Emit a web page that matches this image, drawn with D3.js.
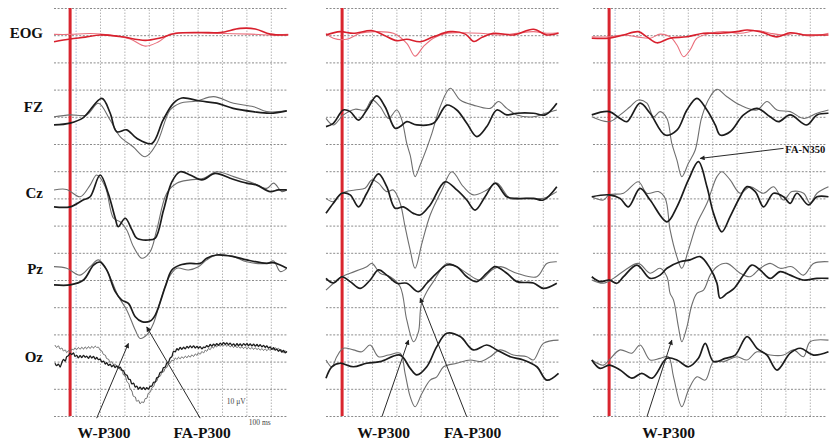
<!DOCTYPE html>
<html>
<head>
<meta charset="utf-8">
<script src="https://cdn.jsdelivr.net/npm/d3@7"></script>
<style>
    body { margin: 0; background: #fff; }
    .chart text { font-family: "Liberation Serif", "Times New Roman", serif; }
</style>
</head>
<body>
<div class="chart"></div>
<script>
// channel names, one per row block
var channels = ["EOG", "FZ", "Cz", "Pz", "Oz"];
// grid row of each channel baseline (1 row = 10 uV, 1 column = 100 ms)
var channelRows = [1, 4, 7, 10, 13];
var labelRows = [1.1, 3.82, 6.99, 9.78, 13.01];
var gridTimes = [22.5, 122.5, 222.5, 322.5, 422.5, 522.5, 622.5, 722.5, 822.5];

// ---------- panel 1 ----------  [ms, uV]  (positive drawn downward)
var p1EogA = [[-66,2.4],[0,1.4],[62,0.7],[123,-0.1],[205,0.5],[308,1.9],[369,1.0],[431,-0.6],[533,-1.0],[615,-1.0],[697,-2.5],[759,-2.3],[820,-0.4],[894,-0.1]];
var p1EogB = [[-66,-0.3],[0,-0.3],[82,-0.6],[164,-0.1],[246,1.4],[308,4.0],[361,2.5],[410,-0.4],[533,-0.8],[636,-0.6],[738,-0.4],[820,-0.1],[894,-0.3]];
var p1FzBlack = [[-66,3.0],[0,2.3],[53,0.4],[130,-6.8],[164,-1.4],[191,5.5],[232,4.8],[273,7.9],[335,9.8],[381,1.2],[424,-5.0],[458,-6.9],[533,-5.8],[601,-5.0],[668,-3.1],[750,-1.9],[820,-1.3],[888,-2.2]];
var p1FzGray = [[-66,0],[0,-0.7],[68,-0.7],[116,-5.0],[164,1.2],[205,7.3],[258,11.0],[308,14.7],[355,9.8],[410,-2.5],[451,-5.0],[519,-5.8],[588,-7.4],[670,-5.0],[752,-3.7],[806,-1.9],[888,-2.2]];
var p1CzBlack = [[-66,3.1],[0,3.1],[53,0.6],[82,-0.6],[123,-8.6],[156,-1.9],[185,7.3],[197,10.4],[226,7.3],[253,11.5],[273,14.6],[321,15.3],[349,14.6],[383,4.3],[417,-6.1],[451,-9.8],[492,-8.6],[540,-6.8],[595,-9.2],[656,-7.4],[724,-5.6],[765,-4.9],[820,-2.5],[853,-3.1],[888,-3.1]];
var p1CzGray = [[-66,-3.1],[-14,-3.3],[41,-0.6],[82,-4.9],[109,-8.6],[144,-4.3],[178,7.3],[205,8.6],[232,11.6],[260,17.8],[294,22.0],[328,19.6],[355,11.6],[396,-1.9],[437,-5.6],[492,-6.8],[547,-7.4],[601,-9.8],[670,-8.0],[752,-5.6],[806,-3.7],[834,-5.6],[868,-2.5],[888,-3.1]];
var p1PzBlack = [[-66,1.8],[0,1.8],[55,0],[96,-5.5],[123,-6.6],[150,-3.7],[185,4.3],[212,7.4],[239,8.6],[267,13.5],[294,15.3],[328,15.1],[349,12.9],[390,2.5],[417,-3.7],[451,-5.5],[492,-6.1],[533,-6.1],[560,-8.0],[601,-9.2],[670,-8.6],[724,-7.4],[806,-6.1],[832,-6.4],[861,-5.5],[888,-4.3]];
var p1PzGray = [[-66,-4.9],[-14,-4.3],[41,-1.8],[82,-4.9],[116,-7.4],[150,-3.7],[198,6.1],[232,11.0],[267,18.4],[287,21.5],[314,20.2],[342,15.9],[369,8.0],[403,-0.6],[437,-4.3],[485,-3.7],[526,-4.9],[560,-7.4],[601,-9.2],[670,-8.6],[724,-6.7],[806,-6.1],[834,-7.0],[861,-3.1],[888,-4.3]];
var p1OzBlack = [[-62,0.6],[-55,1.5],[-48,0.9],[-41,2.0],[-34,0.4],[-27,-0.8],[-20,-0.2],[-14,-1.8],[-7,-2.2],[0,-3.1],[7,-2.6],[14,-3.2],[20,-1.9],[27,-2.3],[34,-1.4],[41,-2.2],[48,-1.5],[55,-2.3],[62,-1.6],[68,-2.0],[75,-1.2],[82,-2.1],[89,-1.3],[96,-1.9],[103,-0.9],[109,-1.5],[116,-0.7],[123,-0.9],[130,0.1],[137,-0.2],[144,0.9],[150,0.4],[157,1.4],[164,0.9],[171,1.9],[178,1.3],[185,2.2],[191,1.6],[198,2.4],[205,2.0],[212,3.1],[219,3.4],[226,4.8],[233,5.0],[240,6.5],[246,6.6],[253,8.2],[260,7.9],[267,9.4],[273,9.0],[280,10.1],[287,9.4],[294,10.2],[301,9.5],[308,10.3],[314,9.6],[321,10.1],[328,9.1],[335,9.0],[342,7.6],[349,7.5],[355,6.0],[362,5.6],[369,4.0],[376,3.8],[383,2.2],[390,2.0],[396,0.6],[403,0.2],[410,-1.3],[417,-1.8],[424,-3.8],[431,-3.6],[438,-4.8],[444,-4.2],[451,-5.2],[458,-4.5],[465,-5.3],[472,-4.7],[479,-5.6],[485,-5.0],[492,-5.8],[499,-5.1],[506,-5.8],[513,-5.0],[520,-5.6],[526,-4.9],[533,-5.5],[540,-4.7],[547,-5.3],[554,-5.2],[560,-5.9],[567,-5.4],[574,-6.3],[581,-5.7],[588,-6.4],[595,-5.9],[601,-6.6],[608,-6.0],[615,-6.8],[622,-6.2],[629,-7.0],[636,-6.3],[642,-6.9],[649,-6.2],[656,-6.8],[663,-6.0],[670,-6.5],[677,-5.8],[684,-6.6],[690,-5.9],[697,-6.5],[704,-5.8],[711,-6.6],[718,-6.0],[725,-6.6],[731,-5.9],[738,-6.5],[745,-5.8],[752,-6.4],[759,-5.7],[766,-6.3],[772,-5.6],[779,-6.2],[786,-5.4],[793,-6.0],[800,-5.2],[806,-5.8],[813,-5.0],[820,-5.4],[827,-4.5],[834,-5.1],[841,-4.2],[847,-4.6],[854,-3.8],[861,-4.4],[868,-3.5],[875,-4.1],[882,-3.2],[888,-3.8]];
var p1OzGray = [[-62,-6.1],[-55,-5.2],[-48,-5.8],[-41,-4.6],[-34,-5.0],[-27,-3.9],[-20,-4.3],[-14,-3.3],[-7,-4.0],[0,-3.6],[7,-4.6],[14,-4.3],[20,-5.1],[27,-4.4],[34,-5.2],[41,-4.5],[48,-5.3],[55,-4.6],[62,-5.4],[68,-4.7],[75,-5.5],[82,-4.8],[89,-5.6],[96,-5.0],[103,-5.7],[109,-5.2],[116,-5.3],[123,-4.2],[130,-3.9],[137,-2.6],[144,-2.4],[150,-1.1],[157,-0.9],[164,0.2],[171,0.1],[178,1.1],[185,0.9],[191,1.9],[198,1.7],[205,3.0],[212,3.2],[219,4.9],[226,5.3],[233,7.4],[240,8.0],[246,10.0],[253,10.8],[260,12.8],[267,13.0],[273,14.6],[280,14.2],[287,15.5],[294,14.8],[301,15.1],[308,13.6],[314,13.5],[321,11.6],[328,11.3],[335,9.6],[342,9.2],[349,7.5],[355,7.2],[362,5.6],[369,5.4],[376,4.0],[383,3.8],[390,2.4],[396,2.2],[403,0.8],[410,0.6],[417,-0.5],[424,-0.3],[431,-1.3],[438,-0.8],[444,-1.6],[451,-1.0],[458,-1.8],[465,-1.2],[472,-2.0],[479,-1.4],[485,-2.2],[492,-1.6],[499,-2.5],[506,-1.9],[513,-2.8],[520,-2.3],[526,-3.2],[533,-2.7],[540,-3.7],[547,-3.2],[554,-4.2],[560,-3.8],[567,-4.8],[574,-4.4],[581,-5.4],[588,-5.0],[595,-5.9],[601,-5.4],[608,-6.2],[615,-5.6],[622,-6.3],[629,-5.8],[636,-6.3],[642,-5.6],[649,-6.1],[656,-5.4],[663,-5.9],[670,-5.2],[677,-5.8],[684,-5.1],[690,-5.6],[697,-4.9],[704,-5.5],[711,-4.8],[718,-5.4],[725,-4.7],[731,-5.3],[738,-4.6],[745,-5.2],[752,-4.5],[759,-5.1],[766,-4.4],[772,-4.9],[779,-4.2],[786,-4.8],[793,-4.1],[800,-4.7],[806,-4.0],[813,-4.6],[820,-4.1],[827,-5.0],[834,-4.4],[841,-5.1],[847,-4.5],[854,-4.9],[861,-3.9],[868,-4.3],[875,-3.3],[882,-3.9],[888,-3.2]];

// ---------- panel 2 ----------
var p2EogA = [[-66,-0.1],[-8,-1.3],[46,-0.7],[122,-1.7],[169,-0.1],[224,2.0],[265,1.5],[320,2.4],[374,0.6],[443,-1.3],[505,-0.4],[540,2.3],[573,0.8],[620,-0.7],[702,-0.1],[784,-2.2],[839,-0.1],[887,-0.7]];
var p2EogB = [[-66,-0.7],[-36,1.1],[19,1.5],[74,-0.7],[135,-1.3],[210,-0.7],[265,3.0],[299,7.7],[333,4.2],[374,1.1],[429,-0.7],[497,-0.9],[566,-0.7],[648,-0.1],[716,-0.7],[784,-1.3],[839,-0.7],[887,-0.9]];
var p2FzBlack = [[-66,3.6],[-36,2.4],[5,-2.5],[33,-1.9],[67,1.2],[101,-2.5],[142,-7.7],[176,-3.7],[217,4.2],[238,3.6],[265,1.8],[306,3.0],[374,2.4],[429,-4.3],[470,-2.5],[511,2.4],[552,7.3],[593,3.6],[634,-2.5],[675,-0.7],[716,-1.3],[784,-1.3],[832,-0.7],[880,-5.0]];
var p2FzGray = [[-66,0.6],[-36,3.0],[5,-0.7],[53,-2.8],[94,-2.5],[122,-6.2],[156,-3.7],[190,0.6],[224,-2.5],[245,1.2],[265,9.8],[279,14.1],[299,22.0],[320,17.7],[347,11.5],[368,6.1],[402,-3.7],[443,-10.5],[484,-6.2],[538,-4.3],[607,-3.1],[641,-5.6],[675,-3.1],[716,-0.7],[784,0],[832,-1.3],[880,-2.5]];
var p2CzBlack = [[-66,5.5],[-36,1.8],[-1,-1.9],[33,-1.3],[67,3.1],[101,-1.9],[149,-9.0],[183,-4.3],[217,3.6],[251,3.1],[292,5.5],[320,6.1],[361,2.4],[422,-6.1],[470,-3.1],[511,0.6],[545,4.3],[586,-0.6],[627,-5.6],[675,-0.6],[716,0],[784,0],[825,0.6],[880,-4.3]];
var p2CzGray = [[-66,0],[-36,1.2],[-1,-1.9],[53,-3.1],[94,-3.7],[122,-6.8],[149,-5.6],[183,-2.5],[210,-3.1],[238,1.8],[258,10.4],[279,19.0],[299,25.7],[327,16.5],[361,6.1],[409,-3.1],[450,-9.8],[497,-4.3],[538,-1.3],[593,-3.1],[634,-5.6],[689,0],[757,0],[825,0],[880,-2.5]];
var p2PzBlack = [[-66,-0.6],[-36,1.1],[-1,-1.2],[33,0.6],[74,3.1],[115,0],[149,-3.7],[183,-1.8],[224,1.2],[265,1.2],[313,4.3],[347,1.2],[388,-2.5],[429,-5.5],[470,-4.9],[511,-1.2],[552,0.6],[593,-2.5],[627,-4.9],[675,-2.5],[716,0.6],[784,1.1],[825,3.1],[880,1.2]];
var p2PzGray = [[-66,3.7],[-1,-1.2],[33,-2.5],[101,-4.9],[122,-6.1],[156,-2.5],[197,-1.2],[238,2.5],[265,14.7],[293,22.7],[313,19.0],[324,9.2],[347,4.3],[374,0.6],[429,-6.1],[470,-4.9],[511,-2.5],[566,0],[614,-3.7],[648,-4.9],[716,-2.5],[798,-1.2],[839,-6.1],[880,-6.7]];
var p2OzBlack = [[-66,6.1],[-42,1.9],[-8,0.6],[46,1.9],[101,0.6],[156,0],[238,-2.4],[279,2.5],[306,4.9],[347,1.9],[388,-5.5],[429,-10.4],[484,-9.2],[538,-4.3],[593,-6.1],[634,-4.3],[689,-1.8],[743,-0.6],[798,1.9],[839,6.8],[887,4.3]];
var p2OzGray = [[-66,-0.6],[-42,1.9],[-22,-1.8],[5,-4.9],[46,-4.3],[81,-3.6],[115,-6.1],[149,-1.8],[190,-2.4],[238,-3.1],[258,4.3],[279,12.9],[299,16.6],[327,11.7],[361,6.8],[388,5.6],[416,1.9],[470,0.6],[525,-0.6],[566,0],[607,-1.8],[648,-4.3],[702,-2.4],[757,-1.8],[784,-0.6],[825,-6.7],[887,-7.9]];

// ---------- panel 3 ----------
var p3EogA = [[-71,1.1],[0,1.1],[59,-0.1],[120,-1.3],[155,0.6],[196,2.8],[250,1.1],[319,0.6],[387,-0.7],[455,-0.7],[524,-1.3],[565,-1.9],[619,-1.3],[688,0.6],[742,-0.9],[797,-0.1],[852,-0.1],[899,-0.1]];
var p3EogB = [[-71,0.6],[0,0.6],[59,-0.1],[114,0.6],[168,1.1],[209,-0.4],[250,0.6],[278,3.6],[305,7.9],[332,5.4],[360,1.1],[414,-0.7],[469,-1.3],[537,-0.7],[606,-1.7],[660,-0.7],[715,-0.1],[770,-0.7],[824,0.3],[899,-0.7]];
var p3FzBlack = [[-71,-0.7],[0,-1.9],[45,0.6],[73,1.8],[127,-5.0],[168,-1.3],[230,6.7],[278,4.9],[319,-2.5],[360,-6.8],[401,-2.5],[435,3.0],[455,6.7],[496,5.5],[551,-0.7],[606,-3.1],[660,0],[694,1.8],[742,-0.7],[810,3.0],[852,-0.7],[899,-1.3]];
var p3FzGray = [[-71,0],[0,1.8],[45,-0.7],[86,-3.7],[120,-6.2],[155,-5.0],[182,0],[209,-1.9],[237,0.6],[257,9.8],[278,15.9],[298,22.0],[325,17.1],[353,12.2],[380,0],[414,-7.4],[442,-10.1],[483,-7.4],[537,-4.3],[606,-2.5],[647,-5.6],[688,-2.5],[742,-1.9],[797,0.6],[852,-1.3],[899,-2.5]];
var p3CzBlack = [[-71,-0.6],[0,-1.3],[45,0],[79,3.1],[127,-3.7],[168,0.6],[237,8.6],[278,3.1],[325,-6.8],[366,-13.5],[401,-4.3],[428,5.5],[462,12.3],[496,6.7],[537,-0.6],[565,-4.3],[599,-2.5],[633,3.1],[674,-1.9],[715,-0.6],[742,1.8],[770,-1.9],[817,2.4],[852,-0.6],[899,-0.6]];
var p3CzGray = [[-71,-0.6],[-23,0.6],[0,-1.3],[59,-1.9],[120,-6.1],[155,-1.9],[202,-2.5],[230,0],[250,11.6],[278,21.5],[298,25.7],[325,19.0],[360,9.2],[401,1.8],[442,-8.0],[462,-9.8],[496,-6.8],[537,-1.9],[578,-4.3],[633,-1.9],[674,-4.3],[715,0.6],[749,-2.5],[797,-1.9],[824,1.8],[852,-1.9],[899,-4.3]];
var p3PzBlack = [[-71,-1.2],[-37,0.6],[0,0],[32,1.2],[59,-1.2],[114,-5.5],[168,-0.6],[209,-1.8],[237,-4.3],[291,-6.7],[332,-7.4],[373,-8.6],[414,-4.3],[442,1.2],[455,6.7],[483,4.9],[510,3.3],[551,-1.8],[585,-5.5],[619,-3.7],[660,-0.6],[701,-3.1],[742,-1.8],[797,0],[852,-0.6],[899,-0.6]];
var p3PzGray = [[-71,0],[-23,1.2],[18,-0.6],[66,-3.7],[120,-6.1],[168,-2.5],[209,-4.3],[237,-1.2],[250,4.9],[264,7.4],[284,17.2],[298,22.7],[319,17.2],[339,9.2],[360,4.9],[387,3.7],[414,-1.8],[442,-4.9],[483,-6.1],[537,-2.5],[578,-1.2],[619,-4.3],[660,-6.1],[701,-4.3],[749,-4.9],[797,-1.8],[838,-6.1],[899,-6.7]];
var p3OzBlack = [[-71,-0.6],[-37,2.5],[0,1.3],[45,3.1],[93,6.1],[134,4.3],[176,6.1],[237,-1.2],[278,-0.6],[325,1.9],[366,-1.2],[394,-6.7],[428,0],[476,-1.2],[517,-2.4],[565,-9.2],[606,-4.9],[647,-2.4],[688,3.1],[742,-3.1],[783,-4.9],[838,-2.4],[899,-3.6]];
var p3OzGray = [[-71,-0.6],[-23,1.3],[0,-0.6],[45,-4.3],[93,-3.1],[127,-6.1],[168,-0.6],[209,-1.2],[243,-1.8],[264,5.6],[298,16.6],[325,10.5],[360,5.6],[394,6.8],[428,0],[469,0],[524,-1.8],[565,-0.6],[606,-3.6],[660,-2.4],[715,-2.4],[756,-4.3],[797,-1.8],[824,-7.3],[899,-7.9]];

// annotations: [panel, ms, grid row]
var arrowLabels = ["W-P300", "FA-P300", "W-P300", "FA-P300", "W-P300", "FA-N350"];
var arrowTails = [[0,109,15.08],[0,533,15.08],[1,163,15.03],[1,511,15.03],[2,155,15.03],[2,715,5.16]];
var arrowTips = [[0,239,12.33],[0,314,11.73],[1,272,12.21],[1,320,10.67],[2,257,12.21],[2,373,5.53]];
var labelSpots = [[0,139,15.8],[0,541,15.8],[1,170,15.8],[1,535,15.8],[2,244,15.8],[2,722,5.33]];

var width = 829, height = 441;
var panelLeft = [54, 326, 593], panelW = 234;

var svg = d3.select(".chart").append("svg").attr("width", width).attr("height", height);

var yRow = d3.scaleLinear().domain([0, 15]).range([8, 416]);
var xs = panelLeft.map(function (l) {
    return d3.scaleLinear().domain([-66, 893]).range([l, l + panelW]);
});

// table of traces, gray/light first so black sits on top
var traces = [
    [0,0,p1EogB,'eogL'],[0,0,p1EogA,'eogD'],[0,1,p1FzGray,'g'],[0,1,p1FzBlack,'k'],[0,2,p1CzGray,'g'],[0,2,p1CzBlack,'k'],
    [0,3,p1PzGray,'g'],[0,3,p1PzBlack,'k'],[0,4,p1OzGray,'gn'],[0,4,p1OzBlack,'kn'],
    [1,0,p2EogB,'eogL'],[1,0,p2EogA,'eogD'],[1,1,p2FzGray,'g'],[1,1,p2FzBlack,'k'],[1,2,p2CzGray,'g'],[1,2,p2CzBlack,'k'],
    [1,3,p2PzGray,'g'],[1,3,p2PzBlack,'k'],[1,4,p2OzGray,'g'],[1,4,p2OzBlack,'k'],
    [2,0,p3EogB,'eogL'],[2,0,p3EogA,'eogD'],[2,1,p3FzGray,'g'],[2,1,p3FzBlack,'k'],[2,2,p3CzGray,'g'],[2,2,p3CzBlack,'k'],
    [2,3,p3PzGray,'g'],[2,3,p3PzBlack,'k'],[2,4,p3OzGray,'g'],[2,4,p3OzBlack,'k']
];
var styles = {
    eogL: {c: '#ea6f7c', w: 1.1}, eogD: {c: '#d8202d', w: 1.6},
    g: {c: '#6e6e6e', w: 1.1}, k: {c: '#1c1c1c', w: 1.7},
    gn: {c: '#666', w: 1.0}, kn: {c: '#1c1c1c', w: 1.3}
};

// grids
panelLeft.forEach(function (l, p) {
    var x = xs[p];
    var hg = svg.append("g").attr("class", "hgrid").attr("transform", "translate(" + l + ",0)")
        .call(d3.axisLeft(yRow).tickValues(d3.range(16)).tickSize(-panelW).tickFormat(""));
    hg.select(".domain").remove();
    hg.selectAll("line").attr("stroke", "#8a8a8a").attr("stroke-width", 1).attr("stroke-dasharray", "2,1.6");

    var vg = svg.append("g").attr("class", "vgrid").attr("transform", "translate(0," + yRow(15) + ")")
        .call(d3.axisBottom(x).tickValues(gridTimes).tickSize(-(yRow(15) - yRow(0))).tickFormat(""));
    vg.select(".domain").remove();
    vg.selectAll("line").attr("stroke", function (d, i) { return i == 0 ? "#a9b8d6" : "#b4b4b4"; })
        .attr("stroke-width", 1).attr("stroke-dasharray", "1.5,1.5");

    // stimulus onset
    svg.append("line").attr("x1", x(0)).attr("x2", x(0)).attr("y1", yRow(0)).attr("y2", yRow(15))
        .attr("stroke", "#d9252f").attr("stroke-width", 3);
});

// traces
traces.forEach(function (tr) {
    var x = xs[tr[0]], row = channelRows[tr[1]], st = styles[tr[3]];
    var noisy = tr[3] == 'gn' || tr[3] == 'kn';
    var line = d3.line()
        .x(function (d) { return x(d[0]); })
        .y(function (d) { return yRow(row + d[1] / 10); })
        .curve(d3.curveCatmullRom.alpha(0.5));
    svg.append("path").datum(tr[2]).attr("d", line).attr("fill", "none")
        .attr("stroke", st.c).attr("stroke-width", st.w).attr("stroke-linejoin", "round");
});

// channel labels
svg.selectAll(".chlabel").data(channels).enter().append("text").attr("class", "chlabel")
    .attr("x", 43).attr("y", function (d, i) { return yRow(labelRows[i]); })
    .attr("text-anchor", "end").attr("font-size", 15).attr("font-weight", "bold").attr("fill", "#111")
    .text(function (d) { return d; });

// arrows
svg.append("defs").append("marker").attr("id", "ah").attr("viewBox", "0 0 10 10")
    .attr("refX", 9).attr("refY", 5).attr("markerWidth", 6).attr("markerHeight", 5)
    .attr("markerUnits", "userSpaceOnUse").attr("orient", "auto")
    .append("path").attr("d", "M0,0L10,5L0,10Z").attr("fill", "#222");

arrowTails.forEach(function (a, i) {
    var b = arrowTips[i];
    svg.append("line")
        .attr("x1", xs[a[0]](a[1])).attr("y1", yRow(a[2]))
        .attr("x2", xs[b[0]](b[1])).attr("y2", yRow(b[2]))
        .attr("stroke", "#2a2a2a").attr("stroke-width", 1).attr("marker-end", "url(#ah)");
});

labelSpots.forEach(function (s, i) {
    var last = i == labelSpots.length - 1;
    svg.append("text").attr("x", xs[s[0]](s[1])).attr("y", yRow(s[2]))
        .attr("text-anchor", last ? "start" : "middle")
        .attr("font-size", last ? 10.5 : 15.5).attr("font-weight", "bold").attr("fill", "#111")
        .text(arrowLabels[i]);
});

// scale notes in panel 1
svg.append("text").attr("x", xs[0](681)).attr("y", yRow(14.56)).attr("text-anchor", "middle")
    .attr("font-size", 7.5).attr("fill", "#444").text("10 μV");
svg.append("text").attr("x", xs[0](777)).attr("y", yRow(15.33)).attr("text-anchor", "middle")
    .attr("font-size", 7.5).attr("fill", "#444").text("100 ms");
</script>
</body>
</html>
